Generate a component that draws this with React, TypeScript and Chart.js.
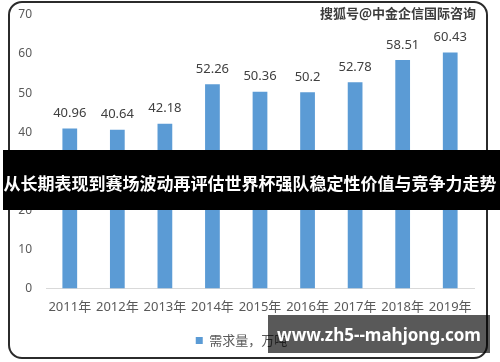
import React, { useEffect, useRef } from "react";
import { Chart, registerables } from "chart.js";

Chart.register(...registerables);

const categories = ["2011年", "2012年", "2013年", "2014年", "2015年", "2016年", "2017年", "2018年", "2019年"];
const demand = [40.96, 40.64, 42.18, 52.26, 50.36, 50.2, 52.78, 58.51, 60.43];
const seriesName = "需求量，万吨";
const yMin = 0;
const yMax = 70;
const yStep = 10;
const bannerText = "从长期表现到赛场波动再评估世界杯强队稳定性价值与竞争力走势";
const topWatermark = "搜狐号@中金企信国际咨询";
const bottomWatermark = "www.zh5--mahjong.com";

const FONT = "'Noto Sans', 'Noto Sans CJK SC', sans-serif";
const CJK = "'Noto Sans CJK SC', 'Noto Sans', sans-serif";

const dataLabelPlugin = {
  id: "dataLabels",
  afterDatasetsDraw(chart: any) {
    const ctx = chart.ctx;
    const meta = chart.getDatasetMeta(0);
    ctx.save();
    ctx.font = `13px ${FONT}`;
    ctx.fillStyle = "#404040";
    ctx.textAlign = "center";
    ctx.textBaseline = "middle";
    meta.data.forEach((el: any, i: number) => {
      ctx.fillText(String(demand[i]), el.x, el.y - 15);
    });
    ctx.restore();
  },
};

export default function App() {
  const ref = useRef<HTMLCanvasElement | null>(null);
  useEffect(() => {
    if (!ref.current) return;
    const chart = new Chart(ref.current, {
      type: "bar",
      data: {
        labels: categories,
        datasets: [
          {
            label: seriesName,
            data: demand,
            backgroundColor: "#5b9bd5",
            borderWidth: 0,
            categoryPercentage: 1,
            barPercentage: 0.31,
          },
        ],
      },
      options: {
        animation: false,
        responsive: false,
        maintainAspectRatio: false,
        layout: { padding: { left: 0, right: 15, top: 13, bottom: 3 } },
        plugins: {
          legend: {
            position: "bottom",
            labels: {
              boxWidth: 7,
              boxHeight: 7,
              color: "#595959",
              font: { size: 13, family: CJK },
              padding: 10,
            },
          },
          tooltip: { enabled: false },
        },
        scales: {
          x: {
            grid: { display: false, drawTicks: false },
            border: { display: true, color: "#d9d9d9", width: 1 },
            ticks: {
              color: "#595959",
              font: { size: 13, family: FONT },
              padding: 11,
              maxRotation: 0,
              autoSkip: false,
            },
            afterFit: (s: any) => {
              s.height = s.height - 2;
            },
          },
          y: {
            min: yMin,
            max: yMax,
            grid: { display: false, drawTicks: false },
            border: { display: false },
            ticks: {
              stepSize: yStep,
              color: "#595959",
              font: { size: 12, family: FONT },
              padding: 14,
            },
            afterFit: (s: any) => {
              s.width = 37;
              s.paddingTop = 0;
              s.paddingBottom = 0;
            },
          },
        },
      },
      plugins: [dataLabelPlugin],
    });
    return () => chart.destroy();
  }, []);

  return (
    <div style={{ position: "fixed", left: 0, top: 0, width: 500, height: 362, background: "#fff", overflow: "hidden" }}>
      <div
        style={{
          position: "absolute",
          left: 8,
          top: 1,
          width: 480,
          height: 358,
          border: "2px solid #2b2b2b",
          borderRadius: 14,
          boxSizing: "border-box",
        }}
      />
      <canvas ref={ref} width={480} height={358} style={{ position: "absolute", left: 9, top: 2, width: 480, height: 358 }} />
      <div
        style={{
          position: "absolute",
          left: 320,
          top: 4,
          fontFamily: CJK,
          fontSize: 13,
          fontWeight: 700,
          color: "#3c3c3c",
          lineHeight: "18px",
          whiteSpace: "nowrap",
          textShadow: "0 0 1px #fff, 0 0 1px #fff",
        }}
      >
        {topWatermark}
      </div>
      <div style={{ position: "absolute", left: 3, top: 150, width: 497, height: 60, background: "#000" }} />
      <div style={{ position: "absolute", left: 9, top: 150, width: 481, height: 60, background: "rgba(0,0,0,0.6)" }} />
      <div
        style={{
          position: "absolute",
          left: 0,
          top: 150,
          width: 500,
          height: 60,
          display: "flex",
          alignItems: "center",
          justifyContent: "center",
          fontFamily: CJK,
          fontSize: 17,
          fontWeight: 700,
          color: "#fff",
          whiteSpace: "nowrap",
          paddingTop: 4,
          boxSizing: "border-box",
        }}
      >
        {bannerText}
      </div>
      <div
        style={{
          position: "absolute",
          left: 268,
          top: 315,
          width: 222,
          height: 38,
          background: "rgba(0,0,0,0.65)",
          display: "flex",
          alignItems: "center",
          justifyContent: "center",
          fontFamily: "'Noto Sans', sans-serif",
          fontSize: 17,
          fontWeight: 700,
          color: "#fff",
          whiteSpace: "nowrap",
        }}
      >
        {bottomWatermark}
      </div>
    </div>
  );
}
